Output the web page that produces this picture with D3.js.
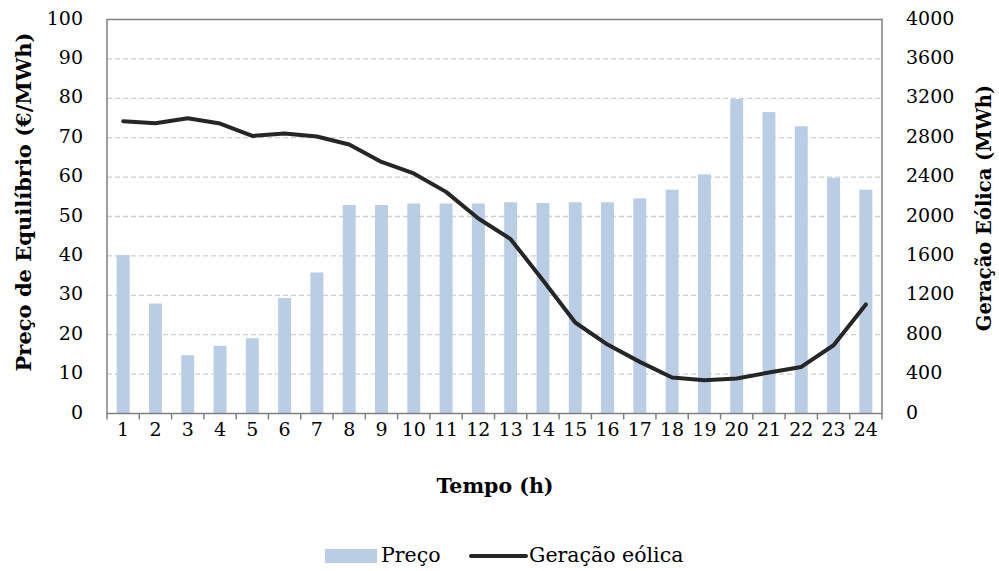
<!DOCTYPE html>
<html><head><meta charset="utf-8">
<script src="https://cdn.jsdelivr.net/npm/d3@7"></script>
<style>body{margin:0;background:#fff}svg{display:block}</style>
</head><body>
<svg id="c" width="999" height="571"></svg>
<script>
const hours = d3.range(1,25).map(String);
const preco = [40.2,27.9,14.8,17.2,19.1,29.3,35.8,52.9,52.9,53.3,53.3,53.3,53.6,53.4,53.6,53.6,54.6,56.8,60.7,79.8,76.5,72.9,59.8,56.8];
const geracao = [2967,2947,2998,2944,2818,2843,2812,2731,2554,2437,2250,1980,1770,1353,924,700,524,365,338,355,416,473,693,1107];
const leftTicks = [0,10,20,30,40,50,60,70,80,90,100];
const rightTicks = [0,400,800,1200,1600,2000,2400,2800,3200,3600,4000];

const FONT = "'DejaVu Serif', serif";
const FS = 19;
const svg = d3.select("#c");
const L=107, R=882, T=19.5, B=413.5;
const x = d3.scaleBand().domain(hours).range([L,R]);
const yL = d3.scaleLinear().domain([0,100]).range([B,T]);
const yR = d3.scaleLinear().domain([0,4000]).range([B,T]);

svg.append("g").selectAll("line").data(leftTicks.filter(d=>d>0&&d<100)).join("line")
  .attr("x1",L).attr("x2",R).attr("y1",d=>yL(d)).attr("y2",d=>yL(d))
  .attr("stroke","#d0d0d0").attr("stroke-width",1.3).attr("stroke-dasharray","5,3");

const bw = x.bandwidth()*0.4;
svg.append("g").selectAll("rect").data(preco).join("rect")
  .attr("x",(d,i)=>x(hours[i])+x.bandwidth()/2-bw/2).attr("width",bw)
  .attr("y",d=>yL(d)).attr("height",d=>B-yL(d))
  .attr("fill","#b9cde5");

const line = d3.line().x((d,i)=>x(hours[i])+x.bandwidth()/2).y(d=>yR(d));
svg.append("path").datum(geracao).attr("d",line).attr("fill","none")
  .attr("stroke","#262626").attr("stroke-width",4).attr("stroke-linejoin","round").attr("stroke-linecap","round");

svg.append("rect").attr("x",L).attr("y",T).attr("width",R-L).attr("height",B-T)
  .attr("fill","none").attr("stroke","#808080").attr("stroke-width",1.5);

svg.append("g").selectAll("line").data(d3.range(25)).join("line")
  .attr("x1",i=>L+i*x.step()).attr("x2",i=>L+i*x.step()).attr("y1",B).attr("y2",B+6)
  .attr("stroke","#808080").attr("stroke-width",1.5);
svg.append("g").selectAll("text").data(hours).join("text")
  .attr("x",d=>x(d)+x.bandwidth()/2).attr("y",B+17).attr("text-anchor","middle")
  .attr("dominant-baseline","middle").attr("font-size",FS).text(d=>d);

svg.append("g").selectAll("text").data(leftTicks).join("text")
  .attr("x",83).attr("y",d=>yL(d)).attr("text-anchor","end").attr("dominant-baseline","middle")
  .attr("font-size",FS).text(d=>d);
svg.append("g").selectAll("text").data(rightTicks).join("text")
  .attr("x",906).attr("y",d=>yR(d)).attr("text-anchor","start").attr("dominant-baseline","middle")
  .attr("font-size",FS).text(d=>d);

svg.append("text").attr("transform","translate(25,202) rotate(-90)").attr("text-anchor","middle")
  .attr("dominant-baseline","middle").attr("font-size",21).attr("font-weight","bold").text("Preço de Equilíbrio (€/MWh)");
svg.append("text").attr("transform","translate(985,208) rotate(-90)").attr("text-anchor","middle")
  .attr("dominant-baseline","middle").attr("font-size",19.5).attr("font-weight","bold").text("Geração Eólica (MWh)");
svg.append("text").attr("x",495).attr("y",487).attr("text-anchor","middle").attr("dominant-baseline","middle")
  .attr("font-size",20.5).attr("font-weight","bold").text("Tempo (h)");

svg.append("rect").attr("x",325).attr("y",549).attr("width",52).attr("height",14).attr("fill","#b9cde5");
svg.append("text").attr("x",381).attr("y",556).attr("dominant-baseline","middle").attr("font-size",20.5).text("Preço");
svg.append("line").attr("x1",471).attr("x2",526).attr("y1",556).attr("y2",556).attr("stroke","#262626").attr("stroke-width",4).attr("stroke-linecap","round");
svg.append("text").attr("x",529).attr("y",556).attr("dominant-baseline","middle").attr("font-size",20.5).text("Geração eólica");

svg.selectAll("text").style("font-family", FONT).style("fill","#000");
</script>
</body></html>
